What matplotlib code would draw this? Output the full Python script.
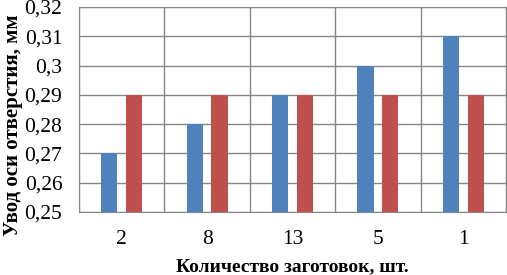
import matplotlib.pyplot as plt
import numpy as np

plt.rcParams['font.family'] = ['Liberation Serif', 'DejaVu Serif']

# data
categories = ['2', '8', '13', '5', '1']
blue_vals = [0.27, 0.28, 0.29, 0.30, 0.31]
red_vals = [0.29, 0.29, 0.29, 0.29, 0.29]
yticks = [0.25, 0.26, 0.27, 0.28, 0.29, 0.30, 0.31, 0.32]

fig = plt.figure(figsize=(5.07, 2.75), dpi=100)
ax = fig.add_axes([79/507, 1 - 212/275, 427/507, 205/275])

x = np.arange(len(categories))
w = 0.19
ax.bar(x - 0.145, blue_vals, w, color='#4F81BD', zorder=3)
ax.bar(x + 0.145, red_vals, w, color='#C0504D', zorder=3)

ax.set_xlim(-0.5, len(categories) - 0.5)
ax.set_ylim(0.25, 0.32)
ax.set_yticks(yticks)
ax.set_yticklabels([('%g' % v).replace('.', ',') for v in yticks], fontsize=15.5)
ax.set_xticks(x)
ax.set_xticklabels(categories, fontsize=15.5)
ax.set_xticks(np.arange(len(categories) + 1) - 0.5, minor=True)

ax.grid(axis='y', color='#868686', linewidth=1, zorder=0)
ax.grid(axis='x', which='minor', color='#868686', linewidth=1, zorder=0)
ax.tick_params(axis='both', which='both', length=0)
ax.tick_params(axis='x', pad=13)
ax.tick_params(axis='y', pad=12)
for s in ax.spines.values():
    s.set_color('#868686')

ax.set_xlabel('Количество заготовок, шт.', fontsize=14, fontweight='bold')
ax.set_ylabel('Увод оси отверстия, мм', fontsize=15, fontweight='bold')
# label positions (axes coords)
ax.xaxis.set_label_coords((292 - 79) / 427, (212 - 267) / 205)
ax.yaxis.set_label_coords((13 - 79) / 427, (212 - 125) / 205)
ax.xaxis.label.set_va('center')
ax.yaxis.label.set_va('center')

fig.savefig('out.png', dpi=100)
